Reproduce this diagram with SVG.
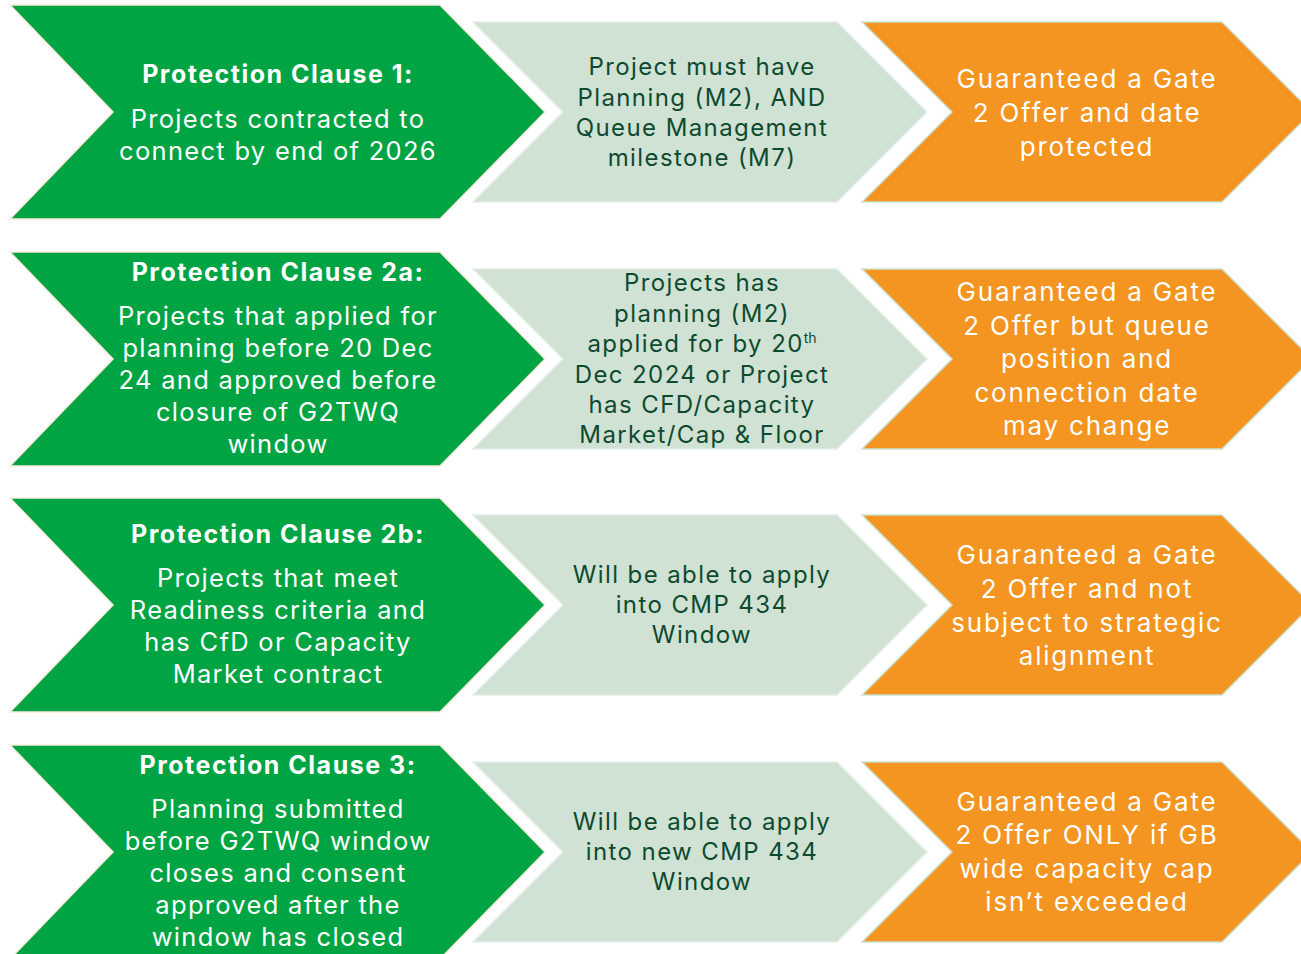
<svg xmlns="http://www.w3.org/2000/svg" width="1301" height="954" viewBox="0 0 1301 954">
<style>
.g{fill:#00A443;stroke:#FBEBDD;stroke-width:1.5}
.m{fill:#D0E2D4;stroke:#E3EEE6;stroke-width:1.5}
.o{fill:#F39520;stroke:#CDE2D1;stroke-width:1.5}
text{font-family:Inter,"Open Sans","Liberation Sans",sans-serif;text-anchor:middle}
.gt{fill:#FFFFFF;font-size:25.5px;letter-spacing:1.3px}
.gb{fill:#FFFFFF;font-size:25px;font-weight:bold;letter-spacing:1.5px}
.mt{fill:#0D4A30;font-size:24px;letter-spacing:1.4px}
.ot{fill:#FFFFFF;font-size:26px;letter-spacing:1.8px}
.sup{font-size:14px;letter-spacing:0}
</style>
<rect width="1301" height="954" fill="#FFFFFF"/>
<g id="connectors"></g>

<g id="row1-clause">
<path class="g" d="M10,5 L440,5 L545,112 L440,219 L10,219 L113,112 Z"/>
<text class="gb" x="278" y="83">Protection Clause 1:</text>
<text class="gt" x="278" y="128">Projects contracted to</text>
<text class="gt" x="278" y="160">connect by end of 2026</text>
</g>
<g id="row1-condition">
<path class="m" d="M473,22 L837,22 L927,112 L837,202 L473,202 L563,112 Z"/>
<text class="mt" x="702" y="75">Project must have</text>
<text class="mt" x="702" y="106">Planning (M2), AND</text>
<text class="mt" x="702" y="136">Queue Management</text>
<text class="mt" x="702" y="166">milestone (M7)</text>
</g>
<g id="row1-outcome">
<path class="o" d="M862,22 L1222,22 L1312,112 L1222,202 L862,202 L952,112 Z"/>
<text class="ot" x="1087" y="88">Guaranteed a Gate</text>
<text class="ot" x="1087" y="122">2 Offer and date</text>
<text class="ot" x="1087" y="156">protected</text>
</g>

<g id="row2-clause">
<path class="g" d="M10,252 L440,252 L545,359 L440,466 L10,466 L113,359 Z"/>
<text class="gb" x="278" y="281">Protection Clause 2a:</text>
<text class="gt" x="278" y="325">Projects that applied for</text>
<text class="gt" x="278" y="357">planning before 20 Dec</text>
<text class="gt" x="278" y="389">24 and approved before</text>
<text class="gt" x="278" y="421">closure of G2TWQ</text>
<text class="gt" x="278" y="453">window</text>
</g>
<g id="row2-condition">
<path class="m" d="M473,269 L837,269 L927,359 L837,449 L473,449 L563,359 Z"/>
<text class="mt" x="702" y="291">Projects has</text>
<text class="mt" x="702" y="322">planning (M2)</text>
<text class="mt" x="702" y="352">applied for by 20<tspan class="sup" dy="-9">th</tspan></text>
<text class="mt" x="702" y="383">Dec 2024 or Project</text>
<text class="mt" x="702" y="413">has CFD/Capacity</text>
<text class="mt" x="702" y="443">Market/Cap &amp; Floor</text>
</g>
<g id="row2-outcome">
<path class="o" d="M862,269 L1222,269 L1312,359 L1222,449 L862,449 L952,359 Z"/>
<text class="ot" x="1087" y="301">Guaranteed a Gate</text>
<text class="ot" x="1087" y="335">2 Offer but queue</text>
<text class="ot" x="1087" y="368">position and</text>
<text class="ot" x="1087" y="402">connection date</text>
<text class="ot" x="1087" y="435">may change</text>
</g>

<g id="row3-clause">
<path class="g" d="M10,498 L440,498 L545,605 L440,712 L10,712 L113,605 Z"/>
<text class="gb" x="278" y="543">Protection Clause 2b:</text>
<text class="gt" x="278" y="587">Projects that meet</text>
<text class="gt" x="278" y="619">Readiness criteria and</text>
<text class="gt" x="278" y="651">has CfD or Capacity</text>
<text class="gt" x="278" y="683">Market contract</text>
</g>
<g id="row3-condition">
<path class="m" d="M473,515 L837,515 L927,605 L837,695 L473,695 L563,605 Z"/>
<text class="mt" x="702" y="583">Will be able to apply</text>
<text class="mt" x="702" y="613">into CMP 434</text>
<text class="mt" x="702" y="643">Window</text>
</g>
<g id="row3-outcome">
<path class="o" d="M862,515 L1222,515 L1312,605 L1222,695 L862,695 L952,605 Z"/>
<text class="ot" x="1087" y="564">Guaranteed a Gate</text>
<text class="ot" x="1087" y="598">2 Offer  and not</text>
<text class="ot" x="1087" y="632">subject to strategic</text>
<text class="ot" x="1087" y="665">alignment</text>
</g>

<g id="row4-clause">
<path class="g" d="M10,745 L440,745 L545,852 L440,959 L10,959 L113,852 Z"/>
<text class="gb" x="278" y="774">Protection Clause 3:</text>
<text class="gt" x="278" y="818">Planning submitted</text>
<text class="gt" x="278" y="850">before G2TWQ window</text>
<text class="gt" x="278" y="882">closes and consent</text>
<text class="gt" x="278" y="914">approved after the</text>
<text class="gt" x="278" y="946">window has closed</text>
</g>
<g id="row4-condition">
<path class="m" d="M473,762 L837,762 L927,852 L837,942 L473,942 L563,852 Z"/>
<text class="mt" x="702" y="830">Will be able to apply</text>
<text class="mt" x="702" y="860">into new CMP 434</text>
<text class="mt" x="702" y="890">Window</text>
</g>
<g id="row4-outcome">
<path class="o" d="M862,762 L1222,762 L1312,852 L1222,942 L862,942 L952,852 Z"/>
<text class="ot" x="1087" y="811">Guaranteed a Gate</text>
<text class="ot" x="1087" y="844">2 Offer ONLY if GB</text>
<text class="ot" x="1087" y="878">wide capacity cap</text>
<text class="ot" x="1087" y="911">isn’t exceeded</text>
</g>
</svg>
